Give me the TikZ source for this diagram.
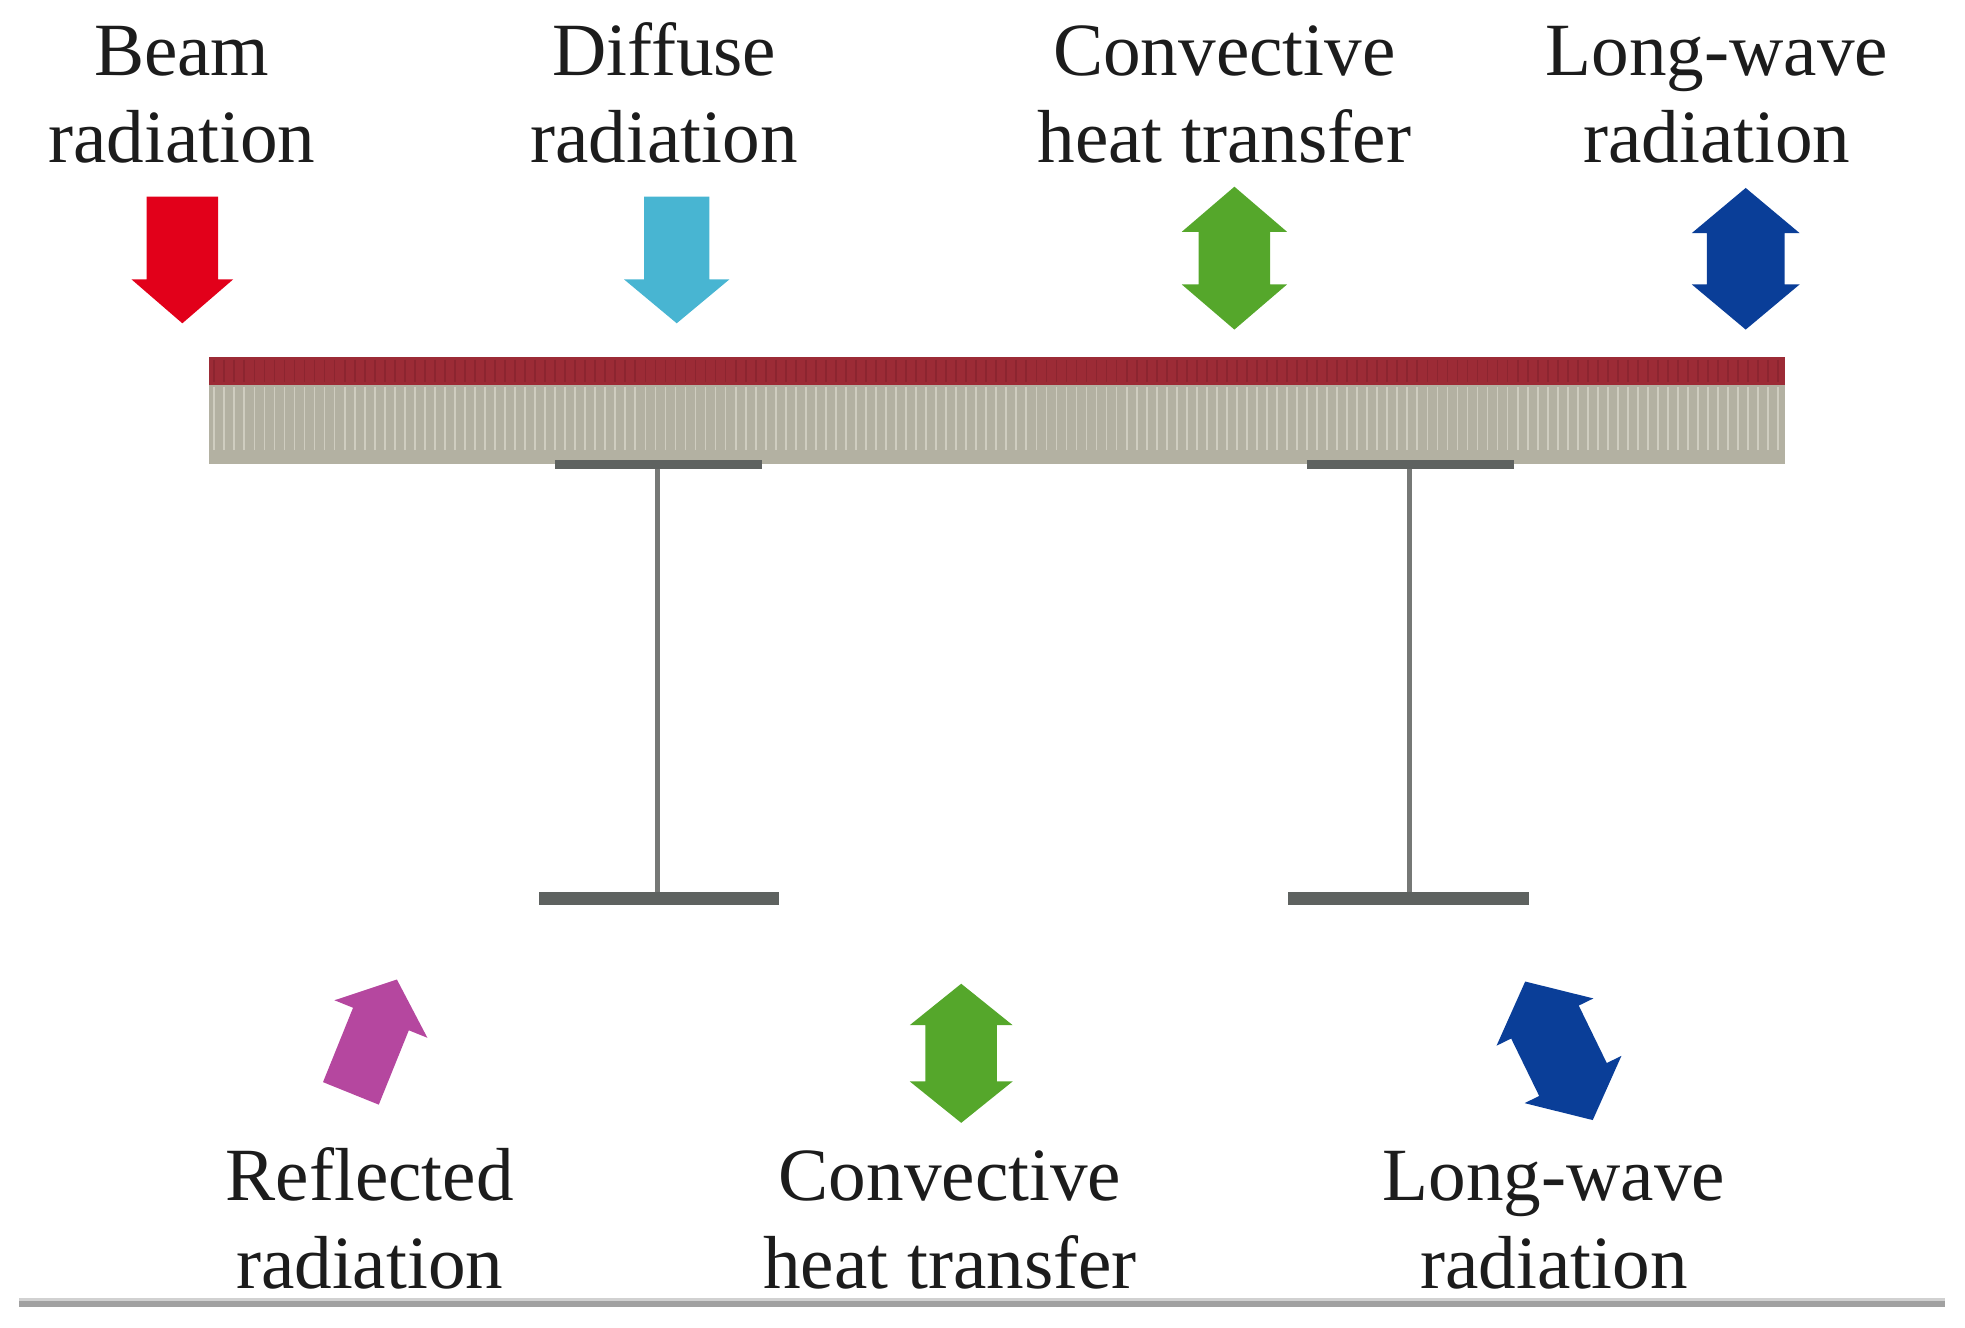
\documentclass[tikz,border=0pt]{standalone}
\usepackage{fontspec}
\setmainfont{Liberation Serif}
\definecolor{cred}{HTML}{E2001A}
\definecolor{ccyan}{HTML}{48B5D2}
\definecolor{cgreen}{HTML}{55A72B}
\definecolor{cblue}{HTML}{0A3E98}
\definecolor{cpink}{HTML}{B5479F}
\definecolor{slabred}{HTML}{9C2B36}
\definecolor{slabredd}{HTML}{8C2530}
\definecolor{slabgrey}{HTML}{B3B1A2}
\definecolor{slabstripe}{HTML}{CFCDC0}
\definecolor{flangec}{HTML}{5E6260}
\definecolor{webc}{HTML}{767876}
\definecolor{txt}{HTML}{1C1C1C}
\newcommand{\sarrowpath}[4]{(-#2,0) -- (-#2,#1-#4) -- (-#3,#1-#4) -- (0,#1) -- (#3,#1-#4) -- (#2,#1-#4) -- (#2,0) -- cycle}
\newcommand{\darrowpath}[4]{(0,#1/2) -- (#3,#1/2-#4) -- (#2,#1/2-#4) -- (#2,-#1/2+#4) -- (#3,-#1/2+#4) -- (0,-#1/2) -- (-#3,-#1/2+#4) -- (-#2,-#1/2+#4) -- (-#2,#1/2-#4) -- (-#3,#1/2-#4) -- cycle}
\begin{document}
\begin{tikzpicture}[x=1pt,y=1pt,
  lbl/.style={font=\fontsize{60}{70}\selectfont, text=txt, inner sep=0pt, anchor=base},
  flange/.style={fill=flangec, draw=none},
  web/.style={draw=webc, line width=4pt}]
\useasboundingbox (0,0) rectangle (1568,1059);
% ---- labels (top) ----
\node[lbl] (beamA) at (145,999) {Beam};
\node[lbl] (beamB) at (145,929) {radiation};
\node[lbl] (diffA) at (530,999) {Diffuse};
\node[lbl] (diffB) at (530,929) {radiation};
\node[lbl] (convA) at (977,999) {Convective};
\node[lbl] (convB) at (977,929) {heat transfer};
\node[lbl] (longA) at (1370,999) {Long-wave};
\node[lbl] (longB) at (1370,929) {radiation};
% ---- labels (bottom) ----
\node[lbl] (reflA) at (295,101) {Reflected};
\node[lbl] (reflB) at (295,31) {radiation};
\node[lbl] (convC) at (758,101) {Convective};
\node[lbl] (convD) at (758,31) {heat transfer};
\node[lbl] (longC) at (1240,101) {Long-wave};
\node[lbl] (longD) at (1240,31) {radiation};
% ---- top arrows ----
\fill[cred, shift={(145.5,902)}, rotate=180] \sarrowpath{101}{28.5}{40.5}{35};
\fill[ccyan, shift={(540,902)}, rotate=180] \sarrowpath{101}{26}{42}{35};
\fill[cgreen, shift={(985,853)}] \darrowpath{114}{28.5}{42}{36};
\fill[cblue, shift={(1393,852.5)}] \darrowpath{113}{31}{43}{36};
% ---- slab ----
\fill[slabred] (167,774) rectangle (1424,752);
\fill[slabgrey] (167,752) rectangle (1424,689);
\foreach \xx in {171,179,...,1420} {
  \draw[slabredd, line width=1.4pt] (\xx,772) -- (\xx,754);
  \draw[slabstripe, line width=1.4pt] (\xx,750) -- (\xx,700);
}
% ---- girders ----
\draw[web] (525,688) -- (525,342);
\fill[flange] (443,692) rectangle (608,685);
\fill[flange] (430,347) rectangle (622,337);
\draw[web] (1125,688) -- (1125,342);
\fill[flange] (1043,692) rectangle (1208,685);
\fill[flange] (1028,347) rectangle (1220,337);
% ---- bottom arrows ----
\fill[cpink, shift={(280,186.5)}, rotate=-22] \sarrowpath{98}{24}{40}{34};
\fill[cgreen, shift={(767,218.5)}] \darrowpath{111}{28.5}{41}{33};
\fill[cblue, shift={(1244,220.5)}, rotate=26] \darrowpath{123}{30}{43}{36};
% ---- bottom rule ----
\fill[black!37] (15,23) rectangle (1552,16);
\fill[black!18] (15,23) rectangle (1552,21);
\end{tikzpicture}
\end{document}
